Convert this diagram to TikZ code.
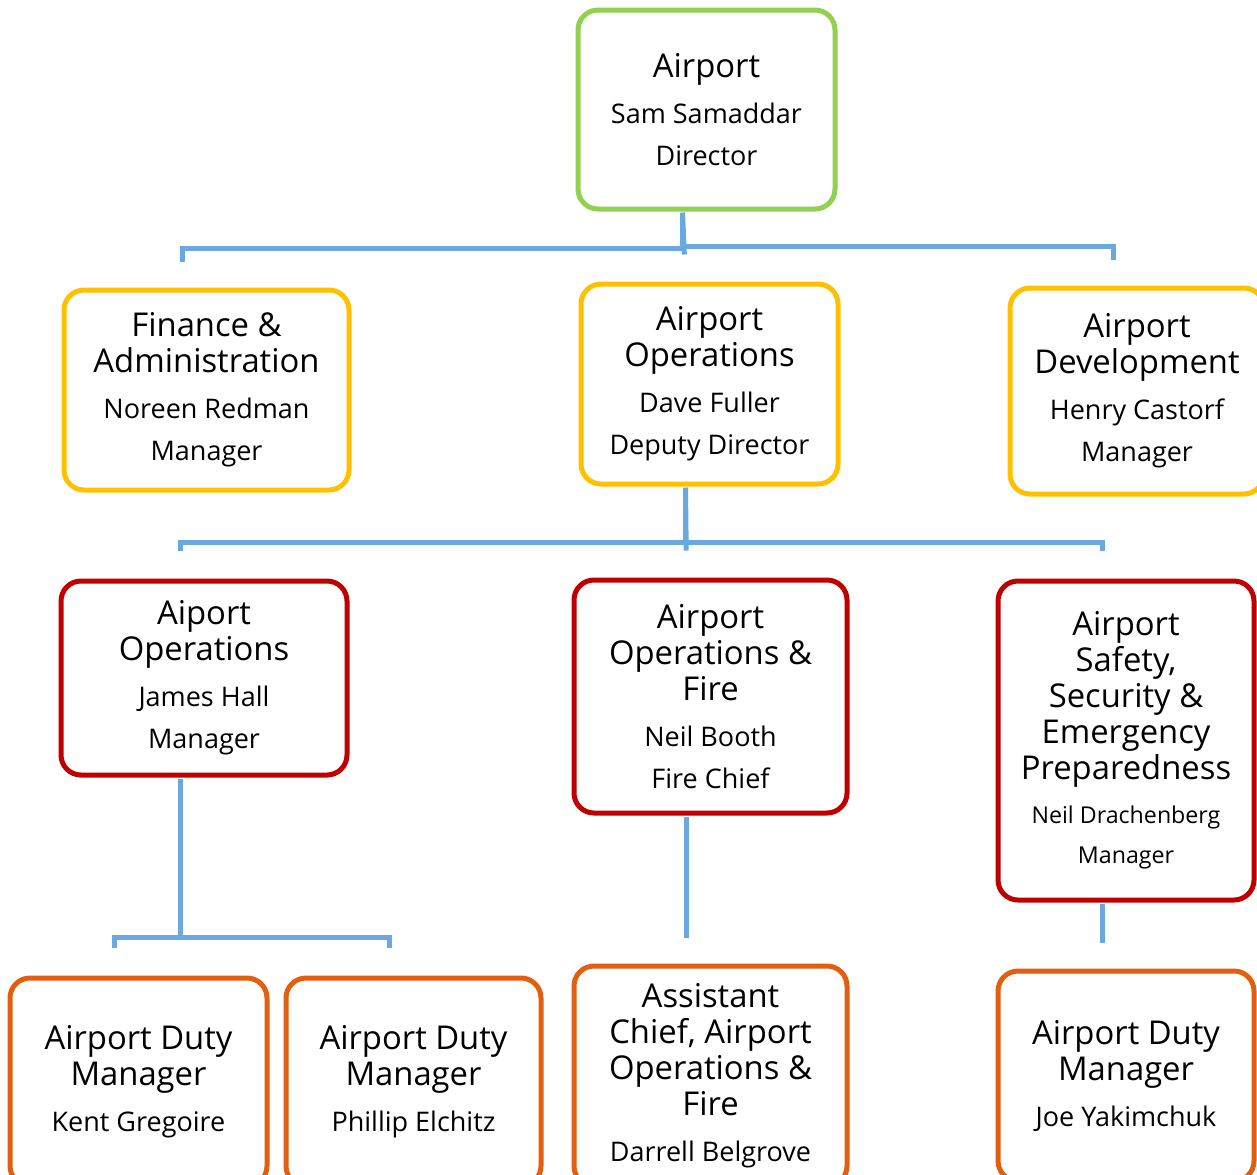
\documentclass[tikz,border=0pt]{standalone}
\usepackage{fontspec}
\setmainfont{Open Sans}
\definecolor{topgreen}{HTML}{92D050}
\definecolor{deptgold}{HTML}{FFC000}
\definecolor{unitred}{HTML}{C00000}
\definecolor{dutyorange}{HTML}{E25E10}
\definecolor{linkblue}{HTML}{69A9E0}
\newcommand{\who}[1]{{\fontsize{13.5}{16}\selectfont #1}}
\newcommand{\whosm}[1]{{\fontsize{11.6}{14}\selectfont #1}}
\tikzset{
  box/.style={draw=#1, line width=2.5pt, rounded corners=10pt, fill=white,
    inner sep=0pt, align=center, font=\fontsize{16.4}{18}\selectfont},
  boxsize/.style 2 args={minimum width=#1*0.5pt, minimum height=#2*0.5pt},
  link/.style={draw=linkblue, line width=2.5pt, shorten <=0.5pt},
}
\begin{document}
\begin{tikzpicture}[x=0.5pt, y=-0.5pt]
\useasboundingbox (0,0) rectangle (1257,1174);
\clip (0,0) rectangle (1257,1174);

% director
\node [box=topgreen, boxsize={257}{199}] (top) at (706.5,109.5)
  {Airport\\[5pt]\who{Sam Samaddar}\\[3pt]\who{Director}};

% departments
\node [box=deptgold, boxsize={285}{200}] (fin) at (206.5,390)
  {Finance \&\\Administration\\[5pt]\who{Noreen Redman}\\[3pt]\who{Manager}};
\node [box=deptgold, boxsize={257}{200}] (ops) at (709.5,384)
  {Airport\\Operations\\[5pt]\who{Dave Fuller}\\[3pt]\who{Deputy Director}};
\node [box=deptgold, boxsize={254}{206}] (dev) at (1137,391)
  {Airport\\Development\\[5pt]\who{Henry Castorf}\\[3pt]\who{Manager}};

% operations units
\node [box=unitred, boxsize={286}{194}] (aops) at (204,678)
  {Aiport\\Operations\\[5pt]\who{James Hall}\\[3pt]\who{Manager}};
\node [box=unitred, boxsize={273}{233}] (fire) at (710.5,696.5)
  {Airport\\Operations \&\\Fire\\[5pt]\who{Neil Booth}\\[3pt]\who{Fire Chief}};
\node [box=unitred, boxsize={256}{319}] (safe) at (1126,740.5)
  {Airport\\Safety,\\Security \&\\Emergency\\Preparedness\\[4pt]\whosm{Neil Drachenberg}\\[2pt]\whosm{Manager}};

% duty managers
\node [box=dutyorange, boxsize={257}{208}] (kent) at (138.5,1082)
  {Airport Duty\\Manager\\[5pt]\who{Kent Gregoire}};
\node [box=dutyorange, boxsize={255}{208}] (phil) at (413.5,1082)
  {Airport Duty\\Manager\\[5pt]\who{Phillip Elchitz}};
\node [box=dutyorange, boxsize={273}{220}] (asst) at (710.5,1076)
  {Assistant\\Chief, Airport\\Operations \&\\Fire\\[5pt]\who{Darrell Belgrove}};
\node [box=dutyorange, boxsize={256}{210}] (joe) at (1126,1076)
  {Airport Duty\\Manager\\[5pt]\who{Joe Yakimchuk}};

% lines
\draw [link, shorten >=13.5pt] ([xshift=-12pt]top.south) -- ([xshift=-12pt]ops.north);
\draw [link, shorten >=13pt] ([xshift=-12pt]top.south) -- ++(0,37) -| ([xshift=-12pt]fin.north);
\draw [link, shorten >=13pt] ([xshift=-12pt]top.south) -- ++(0,35) -| ([xshift=-12pt]dev.north);

\draw [link, shorten >=13.5pt] ([xshift=-12pt]ops.south) -- ([xshift=-12pt]fire.north);
\draw [link, shorten >=14pt] ([xshift=-12pt]ops.south) -- ++(0,56) -| ([xshift=-12pt]aops.north);
\draw [link, shorten >=14pt] ([xshift=-12pt]ops.south) -- ++(0,56) -| ([xshift=-12pt]safe.north);

\draw [link, shorten >=14pt] ([xshift=-12pt]aops.south) -- ++(0,160) -| ([xshift=-12pt]kent.north);
\draw [link, shorten >=14pt] ([xshift=-12pt]aops.south) -- ++(0,160) -| ([xshift=-12pt]phil.north);
\draw [link, shorten >=13pt] ([xshift=-12pt]fire.south) -- ([xshift=-12pt]asst.north);
\draw [link, shorten >=13pt] ([xshift=-12pt]safe.south) -- ([xshift=-12pt]joe.north);
\end{tikzpicture}
\end{document}
